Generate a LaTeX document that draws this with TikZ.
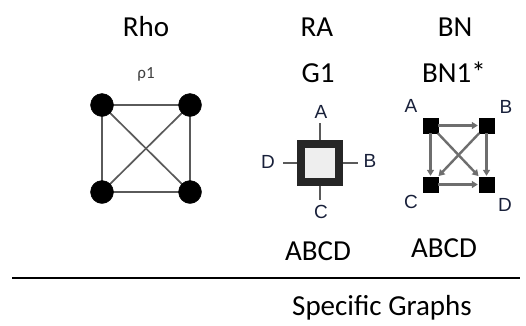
\documentclass[tikz,border=0pt]{standalone}
\usepackage{fontspec}
\setmainfont{Carlito}
\newfontfamily\letterfont{Liberation Sans}
\usepackage{tikz}
\usetikzlibrary{arrows.meta}
\usetikzlibrary{backgrounds}
\definecolor{edgegray}{HTML}{5A5A5A}
\definecolor{arcgray}{HTML}{6E6E6E}
\definecolor{lblnavy}{HTML}{18203A}
\definecolor{boxfill}{HTML}{EEEEEE}
\tikzset{
title/.style={anchor=base, inner sep=0pt, font=\fontsize{29}{32}\selectfont},
lbl/.style={inner sep=0pt, text=lblnavy, font=\letterfont\fontsize{19}{21}\selectfont},
rhonode/.style={shape=circle, draw=black, fill=black, minimum size=23pt, inner sep=0pt},
bnnode/.style={shape=rectangle, draw=black, fill=black, minimum size=15pt, inner sep=0pt},
rhoedge/.style={draw=edgegray, line width=1.7pt},
stub/.style={draw=edgegray, line width=2pt},
bnedge/.style={draw=arcgray, line width=2.4pt, -{Triangle[length=6pt,width=7pt]}, shorten >=1pt}}
\begin{document}
\begin{tikzpicture}[x=1pt, y=-1pt]
            \useasboundingbox (0,0) rectangle (526,325);

                \node[title] (rho) at (146,36) {Rho};
                \node[title] (ra) at (317,36) {RA};
                \node[title] (bn) at (455,36) {BN};
                \node[title, text=black!75, font=\fontsize{17}{19}\selectfont] (rho1) at (146,78) {ρ1};
                \node[title] (g1) at (318,82) {G1};
                \node[title] (bn1) at (454,82) {BN1*};

                \node[rhonode] (P1) at (102,105) {};
                \node[rhonode] (P2) at (190,105) {};
                \node[rhonode] (P3) at (102,192) {};
                \node[rhonode] (P4) at (190,192) {};
                \begin{scope}[on background layer]
                \draw[rhoedge] (P1.center) -- (P2.center);
                \draw[rhoedge] (P1.center) -- (P3.center);
                \draw[rhoedge] (P2.center) -- (P4.center);
                \draw[rhoedge] (P3.center) -- (P4.center);
                \draw[rhoedge] (P1.center) -- (P4.center);
                \draw[rhoedge] (P2.center) -- (P3.center);
                \end{scope}

                \node[shape=rectangle, draw=black!85, fill=boxfill, line width=8pt, minimum size=38pt, inner sep=0pt] (G) at (320,163) {};
                \coordinate (Gn) at (320,123);
                \coordinate (Gs) at (320,200);
                \coordinate (Gw) at (283,163);
                \coordinate (Ge) at (358,163);
                \draw[stub] (G.north) -- (Gn);
                \draw[stub] (G.south) -- (Gs);
                \draw[stub] (G.west) -- (Gw);
                \draw[stub] (G.east) -- (Ge);
                \node[lbl] (ga) at (321,112) {A};
                \node[lbl] (gb) at (370,161) {B};
                \node[lbl] (gc) at (321,212) {C};
                \node[lbl] (gd) at (268,162) {D};
                \node[title] (abcd1) at (318,260) {ABCD};

                \node[bnnode] (A) at (430.5,125.5) {};
                \node[bnnode] (B) at (486.5,125.5) {};
                \node[bnnode] (C) at (430.5,184.5) {};
                \node[bnnode] (D) at (486.5,184.5) {};
                \draw[bnedge] (A) -- (B);
                \draw[bnedge] (A) -- (C);
                \draw[bnedge] (B) -- (D);
                \draw[bnedge] (C) -- (D);
                \draw[bnedge] (A) -- (D);
                \draw[bnedge] (B) -- (C);
                \node[lbl] (la) at (411,106) {A};
                \node[lbl] (lb) at (506,107) {B};
                \node[lbl] (lc) at (411,202) {C};
                \node[lbl] (ld) at (505,205) {D};
                \node[title] (abcd2) at (444,257) {ABCD};

                \coordinate (L1) at (12,278);
                \coordinate (L2) at (520,278);
                \draw[line width=2pt] (L1) -- (L2);
                \node[title] (spec) at (382,315) {Specific Graphs};

\end{tikzpicture}
\end{document}
